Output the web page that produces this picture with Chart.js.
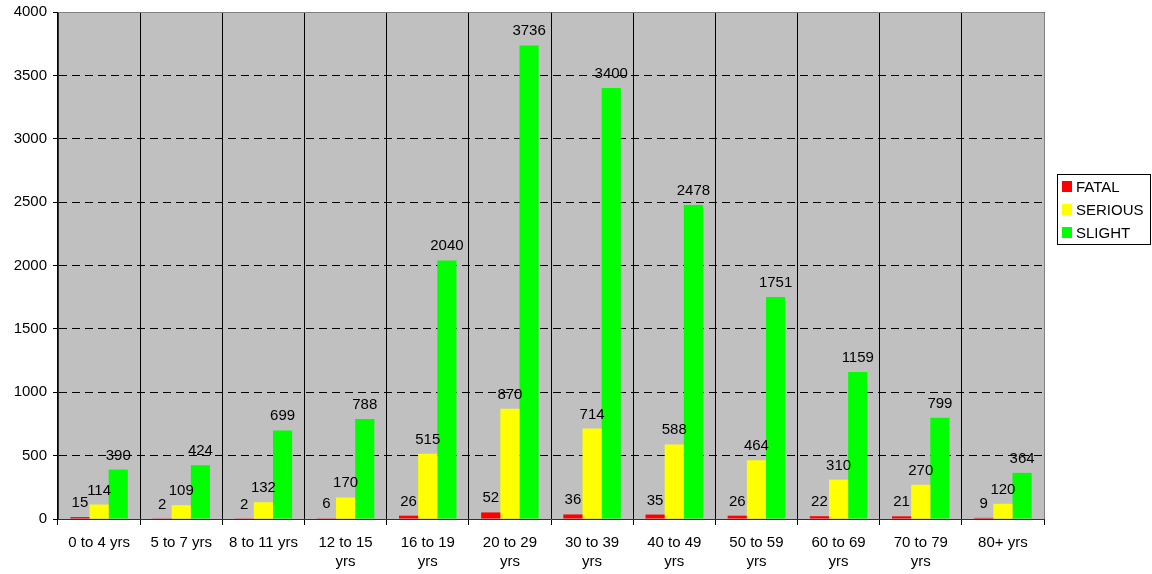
<!DOCTYPE html>
<html>
<head>
<meta charset="utf-8">
<script src="https://cdn.jsdelivr.net/npm/chart.js@4/dist/chart.umd.min.js"></script>
<style>
  body { margin: 0; background: #fff; }
  #wrap { width: 1152px; height: 574px; position: relative; }
</style>
</head>
<body>
<div id="wrap"><canvas id="casualtyChart"></canvas></div>
<script>
const ageBands = [
  ['0 to 4 yrs'], ['5 to 7 yrs'], ['8 to 11 yrs'], ['12 to 15', 'yrs'],
  ['16 to 19', 'yrs'], ['20 to 29', 'yrs'], ['30 to 39', 'yrs'], ['40 to 49', 'yrs'],
  ['50 to 59', 'yrs'], ['60 to 69', 'yrs'], ['70 to 79', 'yrs'], ['80+ yrs']
];
const fatal   = [15, 2, 2, 6, 26, 52, 36, 35, 26, 22, 21, 9];
const serious = [114, 109, 132, 170, 515, 870, 714, 588, 464, 310, 270, 120];
const slight  = [390, 424, 699, 788, 2040, 3736, 3400, 2478, 1751, 1159, 799, 364];
const yTicks  = [0, 500, 1000, 1500, 2000, 2500, 3000, 3500, 4000];

const FONT = '"Liberation Sans", Arial, sans-serif';

// grey plot background
const plotBg = {
  id: 'plotBg',
  beforeDraw(chart) {
    const {ctx, chartArea: a} = chart;
    ctx.save();
    ctx.fillStyle = '#c0c0c0';
    ctx.fillRect(a.left, a.top, a.right - a.left, a.bottom - a.top);
    ctx.restore();
  },
  afterDatasetsDraw(chart) {
    const {ctx, chartArea: a} = chart;
    ctx.save();
    ctx.strokeStyle = '#808080';
    ctx.lineWidth = 1;
    ctx.beginPath();
    ctx.moveTo(a.left, a.top + 0.5);
    ctx.lineTo(a.right + 0.5, a.top + 0.5);
    ctx.lineTo(a.right + 0.5, a.bottom);
    ctx.stroke();
    ctx.restore();
  }
};

// numbers above each bar
const barValues = {
  id: 'barValues',
  afterDatasetsDraw(chart) {
    const {ctx} = chart;
    ctx.save();
    ctx.font = '15px ' + FONT;
    ctx.fillStyle = '#000';
    ctx.textAlign = 'center';
    ctx.textBaseline = 'alphabetic';
    chart.data.datasets.forEach((ds, i) => {
      chart.getDatasetMeta(i).data.forEach((bar, j) => {
        ctx.fillText(String(ds.data[j]), bar.x, bar.y - 10);
      });
    });
    ctx.restore();
  }
};

// boxed legend to the right of the plot
const boxLegend = {
  id: 'boxLegend',
  afterDraw(chart) {
    const {ctx, chartArea: a} = chart;
    const left = a.right + 13, top = 174, w = 94, h = 71, row = 23;
    ctx.save();
    ctx.fillStyle = '#fff';
    ctx.fillRect(left, top, w, h);
    ctx.strokeStyle = '#000';
    ctx.lineWidth = 1;
    ctx.strokeRect(left + 0.5, top + 0.5, w - 1, h - 1);
    ctx.font = '15px ' + FONT;
    ctx.textBaseline = 'alphabetic';
    chart.data.datasets.forEach((ds, i) => {
      const base = top + 18 + i * row;
      ctx.fillStyle = ds.backgroundColor;
      ctx.fillRect(left + 5, base - 11, 10, 11);
      ctx.fillStyle = '#000';
      ctx.fillText(ds.label, left + 19, base);
    });
    ctx.restore();
  }
};

new Chart(document.getElementById('casualtyChart'), {
  type: 'bar',
  data: {
    labels: ageBands,
    datasets: [
      { label: 'FATAL', data: fatal, backgroundColor: '#ff0000' },
      { label: 'SERIOUS', data: serious, backgroundColor: '#ffff00' },
      { label: 'SLIGHT', data: slight, backgroundColor: '#00ff00' }
    ]
  },
  options: {
    responsive: true,
    maintainAspectRatio: false,
    animation: false,
    layout: { padding: { top: 12, right: 108, left: 0, bottom: 0 } },
    datasets: {
      bar: { categoryPercentage: 0.7, barPercentage: 1.0 }
    },
    plugins: {
      legend: { display: false },
      tooltip: { enabled: false }
    },
    scales: {
      x: {
        afterFit(scale) {
          scale.height = 55;
          scale.paddingLeft = 0;
          scale.paddingRight = 0;
        },
        grid: {
          offset: true,
          color: ctx => ctx.index === ageBands.length ? '#808080' : '#000',
          tickColor: '#000',
          tickLength: 6,
          lineWidth: 1
        },
        border: { color: '#333', width: 1 },
        ticks: {
          color: '#000',
          font: { family: FONT, size: 15, lineHeight: 1.3 },
          padding: 8,
          maxRotation: 0,
          autoSkip: false
        }
      },
      y: {
        min: 0,
        max: 4000,
        afterFit(scale) {
          scale.width = 58;
          scale.paddingTop = 0;
          scale.paddingBottom = 0;
        },
        afterBuildTicks(scale) { scale.ticks = yTicks.map(v => ({ value: v })); },
        grid: {
          color: ctx => (ctx.tick && (ctx.tick.value === 0 || ctx.tick.value === 4000)) ? 'rgba(0,0,0,0)' : '#000',
          tickColor: '#000',
          tickLength: 5,
          lineWidth: 1
        },
        border: { color: '#333', width: 1, dash: [8, 5] },
        ticks: {
          color: '#000',
          font: { family: FONT, size: 15 },
          padding: 6,
          callback: v => String(v)
        }
      }
    }
  },
  plugins: [plotBg, barValues, boxLegend]
});
</script>
</body>
</html>
